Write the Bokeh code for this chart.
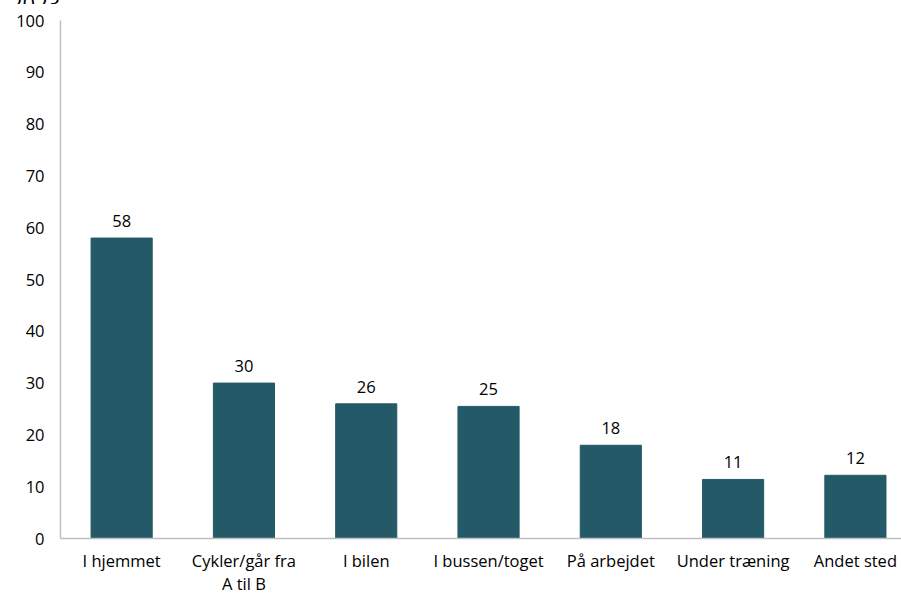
from bokeh.plotting import figure
from bokeh.models import ColumnDataSource, Range1d, FixedTicker, Div
from bokeh.layouts import column
from bokeh.core.properties import value
from bokeh.embed import file_html
from bokeh.resources import INLINE

categories = ["I hjemmet", "Cykler/går fra\nA til B", "I bilen", "I bussen/toget",
              "På arbejdet", "Under træning", "Andet sted"]
values = [58, 30, 26, 25.5, 18, 11.4, 12.2]
value_labels = ["58", "30", "26", "25", "18", "11", "12"]
y_ticks = [0, 10, 20, 30, 40, 50, 60, 70, 80, 90, 100]
header = "2023"

FONT = "Open Sans"
FS = "16.5px"
xs = [i + 0.5 for i in range(len(categories))]
src = ColumnDataSource(dict(x=xs, top=values, lab=value_labels))

W, H = 901, 597
HEAD_H = 4
p = figure(width=W, height=H - HEAD_H, output_backend="svg", toolbar_location=None,
           x_range=Range1d(0, 6.877), y_range=Range1d(0, 100),
           min_border_left=60, min_border_top=20 - HEAD_H, min_border_right=0,
           min_border_bottom=59)
p.outline_line_color = None
p.grid.grid_line_color = None

p.vbar(x="x", top="top", width=0.5, source=src, color="#245A67")
p.text(x="x", y="top", text="lab", source=src, text_align="center", text_baseline="bottom",
       y_offset=-11, text_font_size=FS, text_color="#000000", text_font=value(FONT))

p.xaxis.ticker = FixedTicker(ticks=xs)
p.xaxis.major_label_overrides = {x: c for x, c in zip(xs, categories)}
p.yaxis.ticker = FixedTicker(ticks=y_ticks)
for ax in (p.xaxis[0], p.yaxis[0]):
    ax.axis_line_color = "#BFBFBF"
    ax.axis_line_width = 1.5
    ax.major_tick_line_color = None
    ax.minor_tick_line_color = None
    ax.major_tick_out = 0
    ax.major_tick_in = 0
    ax.minor_tick_out = 0
    ax.major_label_text_font = FONT
    ax.major_label_text_font_size = FS
    ax.major_label_text_color = "#000000"
p.xaxis.major_label_text_line_height = 1.0
p.xaxis.major_label_standoff = 10
p.yaxis.major_label_standoff = 16

# partially visible "2023" header at the very top-left (cut off in the reference)
head = Div(text=f'<div style="margin-top:-20px;padding-left:10px;font-family:\'Open Sans\';'
                f'font-size:22px;color:#000">{header}</div>',
           width=120, height=HEAD_H, margin=0, styles={"overflow": "hidden"})

layout = column(head, p, spacing=0)
open("out.html", "w").write(file_html(layout, INLINE))
